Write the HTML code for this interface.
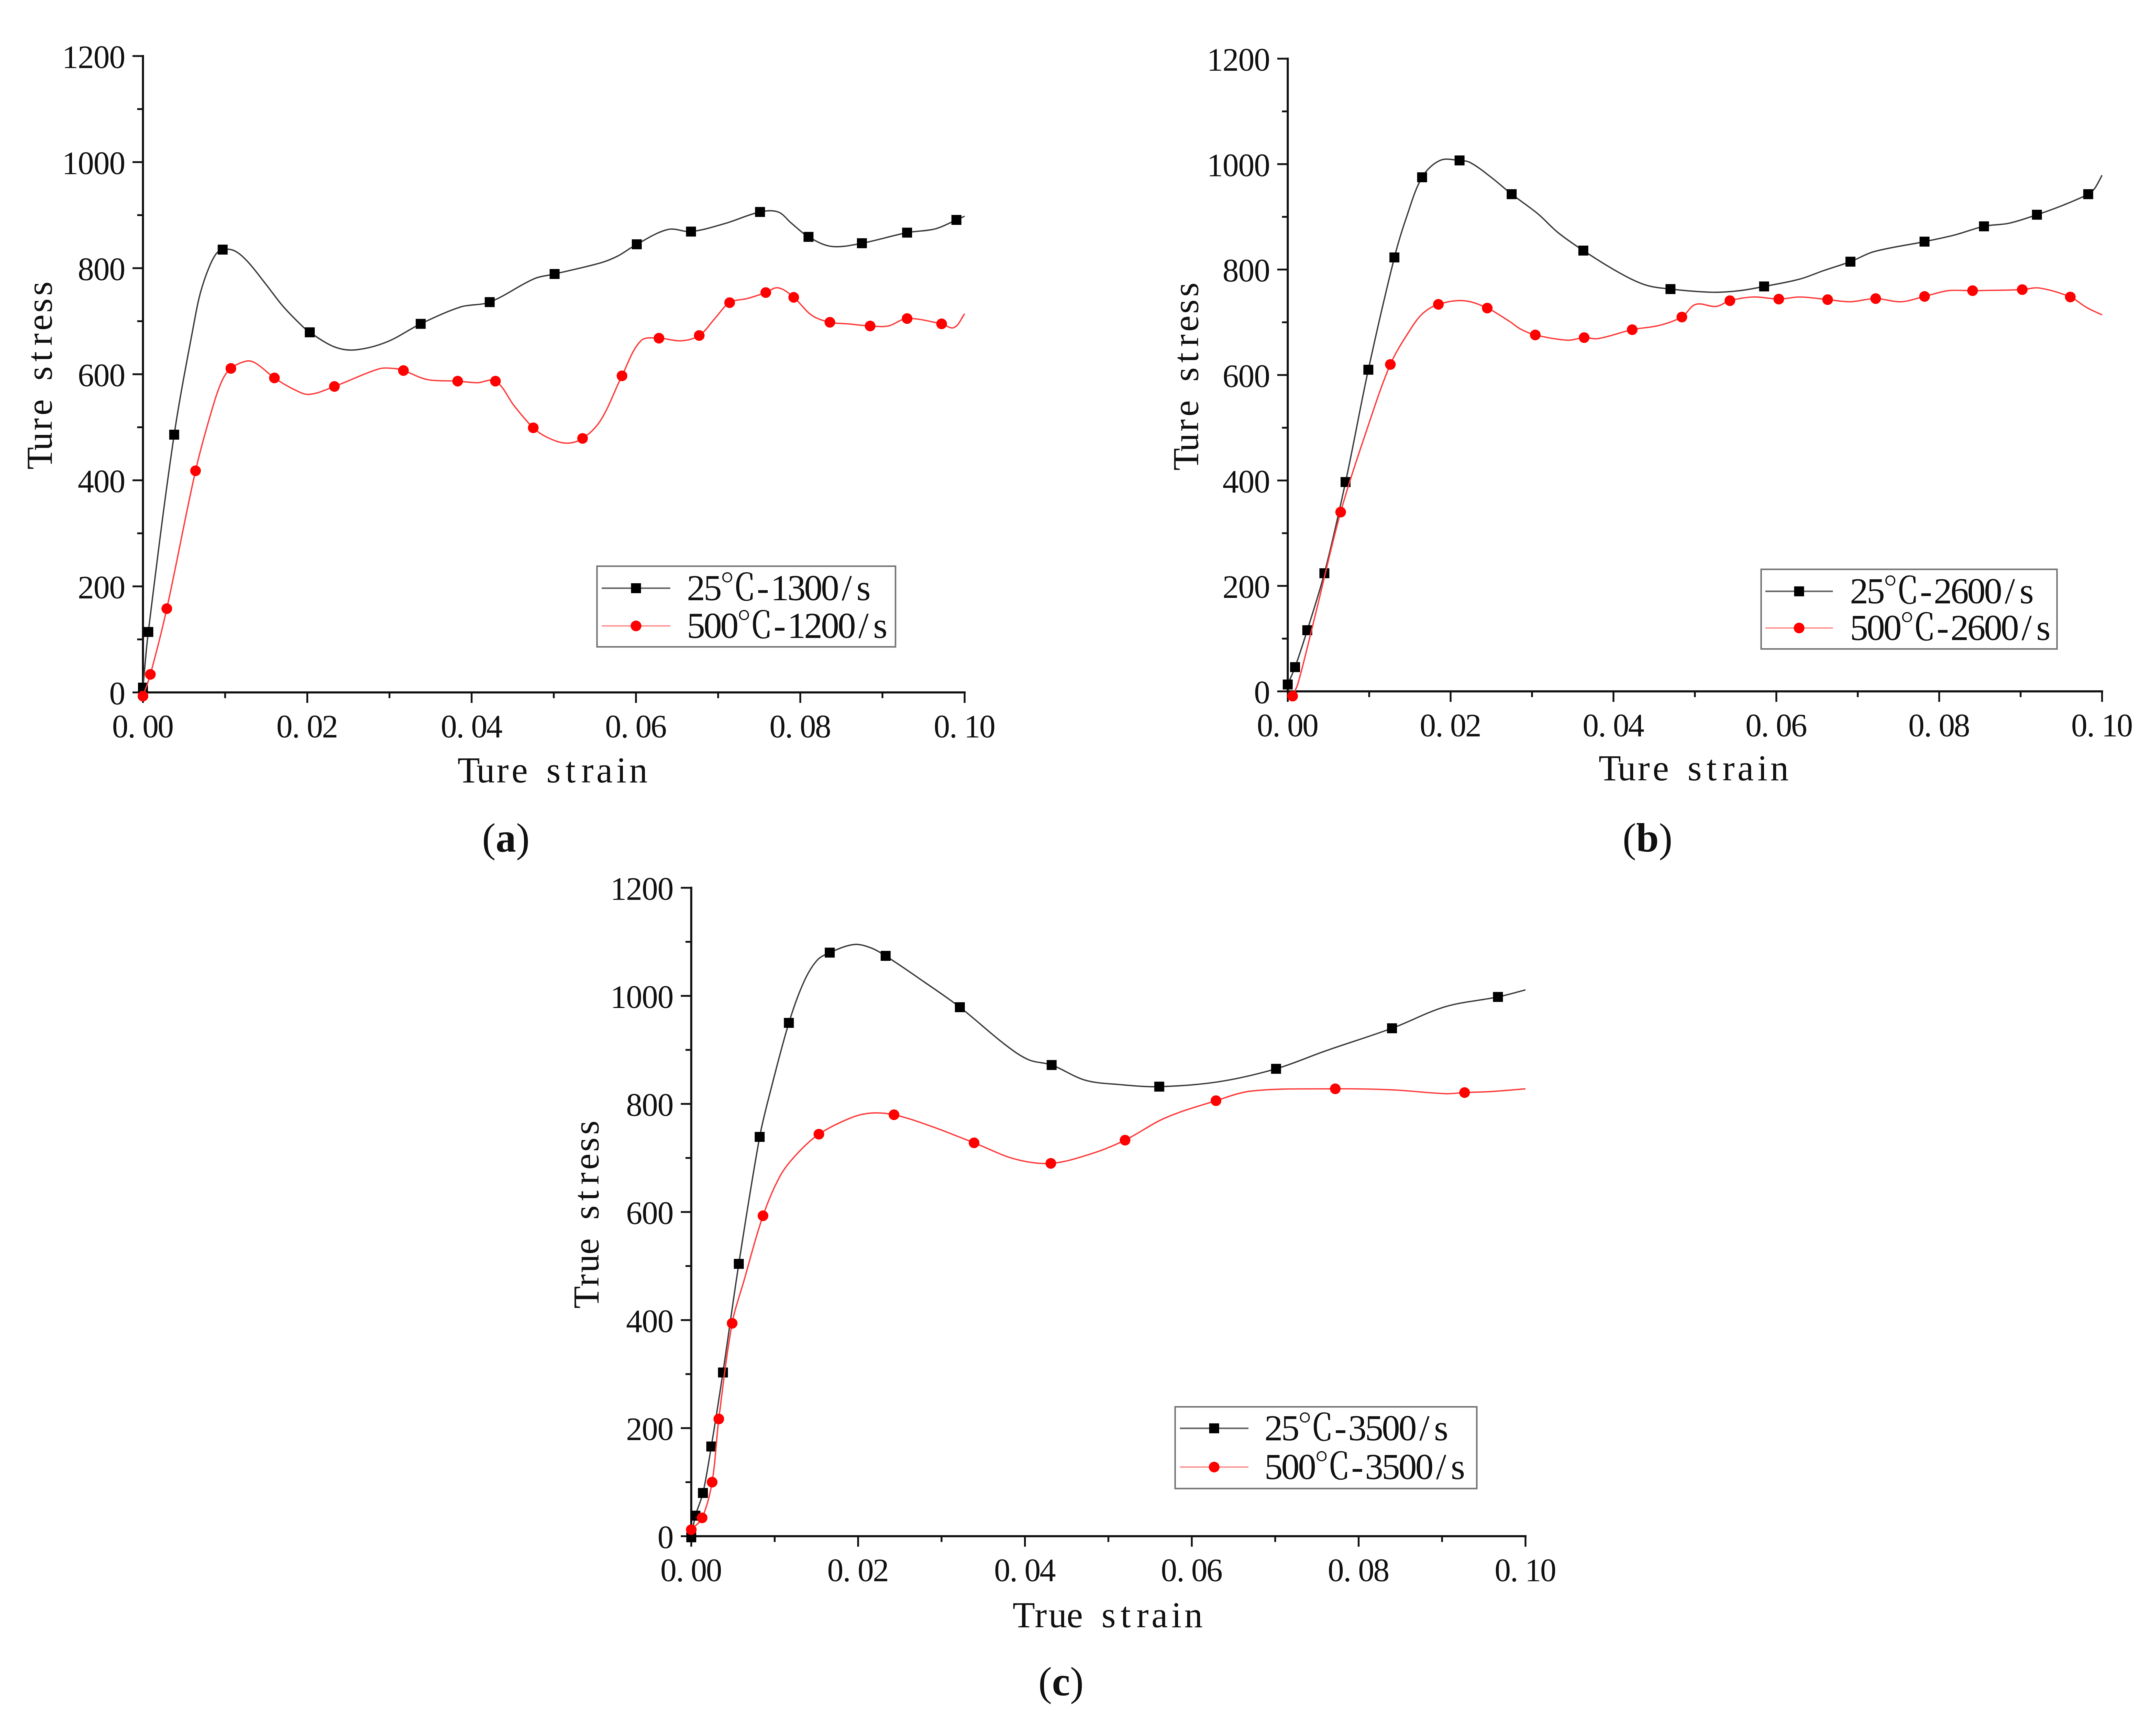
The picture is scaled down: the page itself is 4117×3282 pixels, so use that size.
<!DOCTYPE html>
<html lang="en">
<head>
<meta charset="utf-8">
<title>True stress vs true strain curves</title>
<style>
html,body{margin:0;padding:0;background:#fff;}
svg{display:block;filter:blur(0.8px);}
text{font-family:"Liberation Serif","Noto Serif CJK SC",serif;fill:#111;}
</style>
</head>
<body>
<svg id="figure" xmlns="http://www.w3.org/2000/svg" width="4117" height="3282" viewBox="0 0 4117 3282">
<rect width="4117" height="3282" fill="#fff"/>
<text x="966" y="1626" font-size="78" text-anchor="middle">(<tspan font-weight="bold">a</tspan>)</text>
<text x="3146" y="1626" font-size="78" text-anchor="middle">(<tspan font-weight="bold">b</tspan>)</text>
<text x="2026" y="3237" font-size="78" text-anchor="middle">(<tspan font-weight="bold">c</tspan>)</text>
</svg>
<script>
// ---- shared axis data ----
const xTickValues = [0, 0.02, 0.04, 0.06, 0.08, 0.10];
const xTickLabels = ['0.00', '0.02', '0.04', '0.06', '0.08', '0.10'];
const xMinorValues = [0.01, 0.03, 0.05, 0.07, 0.09];
const yTickValues = [0, 200, 400, 600, 800, 1000, 1200];
const yTickLabels = ['0', '200', '400', '600', '800', '1000', '1200'];
const yMinorValues = [100, 300, 500, 700, 900, 1100];

// ---- panel (a) ----
const aBlackMarkerStrain = [0, .00065, .0038, .0097, .0203, .0338, .0422, .0501, .0601, .0667, .0751, .081, .0875, .093, .099];
const aBlackMarkerStress = [9, 114, 486, 835, 679, 695, 736, 789, 845, 869, 906, 859, 847, 867, 891];
const aBlackCurveStrain = [.0064, .0070, .0079, .0089, .0111, .0127, .0149, .0170, .0191, .0234, .0259, .0297, .0387, .0476, .0557, .0578, .0639, .0708, .0773, .0789, .0838, .0964, .1];
const aBlackCurveStress = [712, 754, 796, 827, 833, 813, 771, 729, 695, 651, 646, 661, 727, 780, 810, 823, 873, 884, 906, 885, 841, 874, 898];
const aRedMarkerStrain = [0, .0009, .0029, .0064, .0107, .016, .0233, .0317, .0383, .0429, .0475, .0535, .0583, .0628, .0677, .0714, .0758, .0792, .0836, .0885, .093, .0972];
const aRedMarkerStress = [-7, 34, 158, 418, 611, 593, 577, 607, 587, 587, 499, 479, 597, 668, 673, 735, 754, 745, 698, 691, 705, 695];
const aRedCurveStrain = [.0083, .0096, .0127, .0138, .0183, .0202, .0287, .0305, .0346, .0407, .0452, .0492, .0515, .0557, .0606, .0655, .0696, .0736, .0773, .0814, .0858, .0907, .0987, .1];
const aRedCurveStress = [528, 587, 625, 620, 572, 562, 610, 611, 590, 584, 540, 481, 470, 513, 663, 663, 705, 743, 763, 711, 695, 691, 688, 714];

// ---- panel (b) ----
const bBlackMarkerStrain = [0, .0009, .0024, .0045, .0071, .0099, .0131, .0165, .0211, .0275, .0363, .047, .0585, .0691, .0782, .0855, .092, .0983];
const bBlackMarkerStress = [13, 46, 116, 224, 397, 610, 823, 975, 1007, 943, 836, 763, 768, 815, 853, 882, 904, 943];
const bBlackCurveStrain = [.0146, .0187, .0224, .0249, .0307, .0332, .0406, .0439, .0522, .0555, .0629, .0658, .072, .082, .0886, .0952, .0991, .1];
const bBlackCurveStress = [900, 1007, 1003, 976, 906, 870, 795, 771, 757, 760, 782, 798, 834, 866, 888, 922, 954, 979];
const bRedMarkerStrain = [.0006, .0065, .0126, .0185, .0245, .0304, .0364, .0423, .0484, .0543, .0603, .0663, .0722, .0782, .0841, .0902, .0961];
const bRedMarkerStress = [-9, 340, 620, 734, 727, 676, 671, 686, 710, 741, 744, 743, 745, 749, 760, 762, 748];
const bRedCurveStrain = [.0013, .0034, .0096, .0150, .0166, .0216, .0273, .0286, .0344, .0381, .0456, .0501, .0526, .0572, .0629, .0691, .0753, .0811, .0923, .0981, .1];
const bRedCurveStress = [17, 146, 491, 685, 717, 741, 701, 687, 666, 669, 694, 734, 730, 748, 748, 739, 739, 760, 765, 728, 714];

// ---- panel (c) ----
const cBlackMarkerStrain = [0, .0005, .0014, .0024, .0038, .0057, .0082, .0117, .0166, .0233, .0322, .0432, .0561, .0701, .084, .0967];
const cBlackMarkerStress = [-2, 38, 80, 166, 303, 504, 739, 950, 1080, 1074, 979, 872, 832, 865, 940, 998];
const cBlackCurveStrain = [.0095, .0135, .0151, .0195, .0215, .0279, .0376, .0404, .0472, .0512, .0632, .076, .0904, .1];
const cBlackCurveStress = [824, 1026, 1066, 1095, 1089, 1026, 910, 882, 844, 836, 841, 898, 980, 1011];
const cRedMarkerStrain = [0, .0013, .0025, .0033, .0049, .0086, .0153, .0243, .0339, .0431, .052, .0629, .0772, .0927];
const cRedMarkerStress = [12, 34, 100, 217, 394, 593, 744, 780, 728, 690, 733, 806, 828, 821];
const cRedCurveStrain = [.0063, .0107, .0127, .0191, .0215, .0287, .0388, .048, .0568, .0672, .084, .0904, .096, .1];
const cRedCurveStress = [472, 668, 708, 774, 783, 759, 698, 708, 774, 824, 826, 819, 823, 828];

const SVG_NS = 'http://www.w3.org/2000/svg';
const figure = document.getElementById('figure');
const measureCtx = document.createElement('canvas').getContext('2d');

function makeEl(tag, parent) {
  const el = document.createElementNS(SVG_NS, tag);
  parent.appendChild(el);
  return el;
}

// draws text on a fixed character grid (the source figure uses a half-width font);
// full-width glyphs take two cells
function cellText(parent, str, startX, baseY, size, cell) {
  measureCtx.font = size + 'px "Liberation Serif","Noto Serif CJK SC",serif';
  const xs = [];
  let pos = startX;
  for (const ch of str) {
    const span = ch === '℃' ? 2 : 1;
    const w = measureCtx.measureText(ch).width;
    let off = (cell * span - w) / 2;
    if (ch === '.') off -= 7;
    xs.push((pos + off).toFixed(1));
    pos += cell * span;
  }
  const t = makeEl('text', parent);
  t.setAttribute('x', xs.join(' '));
  t.setAttribute('y', baseY);
  t.setAttribute('font-size', size);
  t.textContent = str;
  return t;
}

function cellCount(str) {
  let n = 0;
  for (const ch of str) n += ch === '℃' ? 2 : 1;
  return n;
}

function line(parent, x1, y1, x2, y2, color, width) {
  const l = makeEl('line', parent);
  l.setAttribute('x1', x1);
  l.setAttribute('y1', y1);
  l.setAttribute('x2', x2);
  l.setAttribute('y2', y2);
  l.setAttribute('stroke', color);
  l.setAttribute('stroke-width', width);
  return l;
}

// smooth curve whose handle lengths follow each segment length, so unevenly
// spaced samples do not create kinks
function splinePath(pts) {
  const unit = (a, b) => {
    const dx = b[0] - a[0], dy = b[1] - a[1], n = Math.hypot(dx, dy) || 1;
    return [dx / n, dy / n];
  };
  let d = 'M' + pts[0][0].toFixed(1) + ' ' + pts[0][1].toFixed(1);
  for (let i = 0; i < pts.length - 1; i++) {
    const p0 = pts[Math.max(i - 1, 0)], p1 = pts[i], p2 = pts[i + 1], p3 = pts[Math.min(i + 2, pts.length - 1)];
    const len = Math.hypot(p2[0] - p1[0], p2[1] - p1[1]) / 3;
    const t1 = unit(p0, p2), t2 = unit(p1, p3);
    const c1x = p1[0] + t1[0] * len, c1y = p1[1] + t1[1] * len;
    const c2x = p2[0] - t2[0] * len, c2y = p2[1] - t2[1] * len;
    d += 'C' + c1x.toFixed(1) + ' ' + c1y.toFixed(1) + ' ' + c2x.toFixed(1) + ' ' + c2y.toFixed(1) + ' ' + p2[0].toFixed(1) + ' ' + p2[1].toFixed(1);
  }
  return d;
}

function drawMarker(parent, kind, cx, cy, name) {
  let m;
  if (kind === 'square') {
    m = makeEl('rect', parent);
    m.setAttribute('x', cx - 9.5);
    m.setAttribute('y', cy - 9.5);
    m.setAttribute('width', 19);
    m.setAttribute('height', 19);
    m.setAttribute('fill', '#000');
  } else {
    m = makeEl('circle', parent);
    m.setAttribute('cx', cx);
    m.setAttribute('cy', cy);
    m.setAttribute('r', 10.2);
    m.setAttribute('fill', '#ff0000');
  }
  
  
  return m;
}

function drawSeries(parent, sx, sy, markerX, markerY, curveX, curveY, kind, color, name) {
  const merged = [];
  markerX.forEach((v, i) => merged.push([v, markerY[i]]));
  curveX.forEach((v, i) => merged.push([v, curveY[i]]));
  merged.sort((a, b) => a[0] - b[0]);
  const path = makeEl('path', parent);
  path.setAttribute('d', splinePath(merged.map(p => [sx(p[0]), sy(p[1])])));
  path.setAttribute('fill', 'none');
  path.setAttribute('stroke', color);
  path.setAttribute('stroke-width', 2.6);
  
  
  markerX.forEach((v, i) => {
    drawMarker(parent, kind, sx(v), sy(markerY[i]), name + '-marker');
  });
}

function drawPanel(cfg) {
  const g = makeEl('g', figure);
  
  
  const sx = v => cfg.x0 + (v / 0.1) * (cfg.x1 - cfg.x0);
  const sy = v => cfg.y0 - (v / 1200) * (cfg.y0 - cfg.y1);

  // axes
  const yAxis = line(g, cfg.x0, cfg.y1 - 2, cfg.x0, cfg.y0 + 2, '#111', 4);
  
  
  const xAxis = line(g, cfg.x0 - 2, cfg.y0, cfg.x1 + 2, cfg.y0, '#111', 4);
  
  

  xTickValues.forEach((v, i) => {
    const tick = line(g, sx(v), cfg.y0, sx(v), cfg.y0 + 20, '#111', 3.5);
    
    
    const label = cellText(g, xTickLabels[i], sx(v) - 58, cfg.y0 + 86, 62, 29);
    
    
  });
  xMinorValues.forEach(v => {
    const tick = line(g, sx(v), cfg.y0, sx(v), cfg.y0 + 11, '#111', 3.5);
    
    
  });
  yTickValues.forEach((v, i) => {
    const tick = line(g, cfg.x0 - 20, sy(v), cfg.x0, sy(v), '#111', 3.5);
    
    
    const str = yTickLabels[i];
    const label = cellText(g, str, cfg.x0 - 34 - cellCount(str) * 30, sy(v) + 23, 62, 30);
    
    
  });
  yMinorValues.forEach(v => {
    const tick = line(g, cfg.x0 - 11, sy(v), cfg.x0, sy(v), '#111', 3.5);
    
    
  });

  // axis titles
  const xTitle = cellText(g, cfg.xTitle, cfg.xTitleCx - cfg.xTitle.length * 16.2, cfg.xTitleY, 70, 32.4);
  
  
  const yTitleGroup = makeEl('g', g);
  yTitleGroup.setAttribute('transform', 'translate(' + cfg.yTitleX + ',' + cfg.yTitleCy + ') rotate(-90)');
  const yTitle = cellText(yTitleGroup, cfg.yTitle, -cfg.yTitle.length * 16.2, 0, 70, 32.4);
  
  

  // series
  const blackGroup = makeEl('g', g);
  
  
  drawSeries(blackGroup, sx, sy, cfg.blackMX, cfg.blackMY, cfg.blackCX, cfg.blackCY, 'square', '#3c3c3c', 'series-25c');
  const redGroup = makeEl('g', g);
  
  
  drawSeries(redGroup, sx, sy, cfg.redMX, cfg.redMY, cfg.redCX, cfg.redCY, 'circle', '#ff3c3c', 'series-500c');

  // legend
  const L = cfg.legend;
  const legend = makeEl('g', g);
  
  
  const box = makeEl('rect', legend);
  box.setAttribute('x', L.x0);
  box.setAttribute('y', L.y0);
  box.setAttribute('width', L.x1 - L.x0);
  box.setAttribute('height', L.y1 - L.y0);
  box.setAttribute('fill', '#fff');
  box.setAttribute('stroke', '#777');
  box.setAttribute('stroke-width', 3);
  
  
  const blackKey = line(legend, L.lineX0, L.rowY[0], L.lineX1, L.rowY[0], '#666', 3);
  
  
  drawMarker(legend, 'square', (L.lineX0 + L.lineX1) / 2, L.rowY[0], 'legend-key-marker-25c');
  const blackText = cellText(legend, L.labels[0], L.textX, L.rowY[0] + 23, 70, 32);
  
  
  const redKey = line(legend, L.lineX0, L.rowY[1], L.lineX1, L.rowY[1], '#ff9a9a', 3);
  
  
  drawMarker(legend, 'circle', (L.lineX0 + L.lineX1) / 2, L.rowY[1], 'legend-key-marker-500c');
  const redText = cellText(legend, L.labels[1], L.textX, L.rowY[1] + 23, 70, 32);
  
  
}

drawPanel({
  id: 'a', x0: 273, x1: 1842, y0: 1322, y1: 107,
  xTitle: 'Ture strain', xTitleCx: 1057, xTitleY: 1494,
  yTitle: 'Ture stress', yTitleX: 99, yTitleCy: 713,
  blackMX: aBlackMarkerStrain, blackMY: aBlackMarkerStress, blackCX: aBlackCurveStrain, blackCY: aBlackCurveStress,
  redMX: aRedMarkerStrain, redMY: aRedMarkerStress, redCX: aRedCurveStrain, redCY: aRedCurveStress,
  legend: { x0: 1140, x1: 1710, y0: 1081, y1: 1235, lineX0: 1149, lineX1: 1280, rowY: [1123, 1195], textX: 1313, labels: ['25℃-1300/s', '500℃-1200/s'] }
});
drawPanel({
  id: 'b', x0: 2459, x1: 4014, y0: 1320, y1: 112,
  xTitle: 'Ture strain', xTitleCx: 3236, xTitleY: 1490,
  yTitle: 'Ture stress', yTitleX: 2288, yTitleCy: 715,
  blackMX: bBlackMarkerStrain, blackMY: bBlackMarkerStress, blackCX: bBlackCurveStrain, blackCY: bBlackCurveStress,
  redMX: bRedMarkerStrain, redMY: bRedMarkerStress, redCX: bRedCurveStrain, redCY: bRedCurveStress,
  legend: { x0: 3363, x1: 3928, y0: 1087, y1: 1239, lineX0: 3371, lineX1: 3500, rowY: [1129, 1199], textX: 3534, labels: ['25℃-2600/s', '500℃-2600/s'] }
});
drawPanel({
  id: 'c', x0: 1320, x1: 2913, y0: 2933, y1: 1695,
  xTitle: 'True strain', xTitleCx: 2117, xTitleY: 3107,
  yTitle: 'True stress', yTitleX: 1143, yTitleCy: 2315,
  blackMX: cBlackMarkerStrain, blackMY: cBlackMarkerStress, blackCX: cBlackCurveStrain, blackCY: cBlackCurveStress,
  redMX: cRedMarkerStrain, redMY: cRedMarkerStress, redCX: cRedCurveStrain, redCY: cRedCurveStress,
  legend: { x0: 2244, x1: 2820, y0: 2686, y1: 2842, lineX0: 2253, lineX1: 2384, rowY: [2727, 2801], textX: 2416, labels: ['25℃-3500/s', '500℃-3500/s'] }
});
</script>
</body>
</html>
